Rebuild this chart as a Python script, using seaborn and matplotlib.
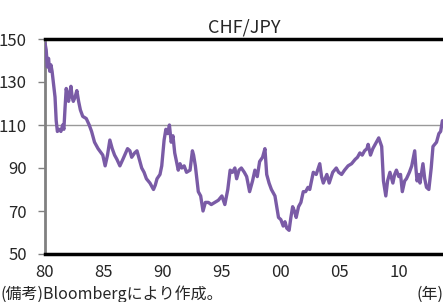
import numpy as np
import matplotlib
matplotlib.use("Agg")
import matplotlib.pyplot as plt
import seaborn as sns

# CHF/JPY (fractional year, rate)
years = [1980.0, 1980.1, 1980.2, 1980.3, 1980.4, 1980.5, 1980.6, 1980.75, 1980.85, 1980.95,
         1981.05, 1981.2, 1981.35, 1981.5, 1981.6, 1981.7, 1981.8, 1981.9, 1982.0, 1982.1,
         1982.2, 1982.3, 1982.4, 1982.55, 1982.7, 1982.85, 1983.0, 1983.2, 1983.5, 1983.75,
         1983.95, 1984.2, 1984.5, 1984.9, 1985.1, 1985.3, 1985.5, 1985.7, 1985.9, 1986.1,
         1986.35, 1986.6, 1987.0, 1987.2, 1987.35, 1987.6, 1987.8, 1988.0, 1988.2, 1988.4,
         1988.6, 1988.9, 1989.2, 1989.35, 1989.5, 1989.75, 1989.9, 1990.1, 1990.25, 1990.4,
         1990.55, 1990.7, 1990.85, 1991.0, 1991.3, 1991.45, 1991.6, 1991.8, 1992.0, 1992.3,
         1992.5, 1992.6, 1992.75, 1993.0, 1993.2, 1993.4, 1993.6, 1993.85, 1994.1, 1994.4,
         1994.7, 1995.0, 1995.25, 1995.5, 1995.7, 1995.9, 1996.1, 1996.25, 1996.45, 1996.65,
         1996.9, 1997.1, 1997.35, 1997.6, 1997.8, 1998.0, 1998.2, 1998.45, 1998.65, 1998.8,
         1999.0, 1999.2, 1999.5, 1999.8, 2000.0, 2000.2, 2000.35, 2000.5, 2000.7, 2000.85,
         2001.0, 2001.15, 2001.3, 2001.5, 2001.7, 2001.9, 2002.1, 2002.3, 2002.45, 2002.6,
         2002.75, 2003.0, 2003.3, 2003.45, 2003.6, 2003.9, 2004.1, 2004.4, 2004.7, 2004.9,
         2005.15, 2005.4, 2005.7, 2006.0, 2006.3, 2006.5, 2006.7, 2006.9, 2007.1, 2007.3,
         2007.4, 2007.6, 2007.8, 2008.0, 2008.3, 2008.55, 2008.7, 2008.9, 2009.05, 2009.25,
         2009.5, 2009.65, 2009.8, 2010.0, 2010.15, 2010.3, 2010.5, 2010.65, 2010.9, 2011.1,
         2011.35, 2011.45, 2011.55, 2011.7, 2011.8, 2012.05, 2012.2, 2012.35, 2012.55, 2012.75,
         2012.9, 2013.05, 2013.2, 2013.4, 2013.55, 2013.7]
rate = [148, 145, 137, 141, 135, 138, 135, 128, 123, 112,
        107, 108, 107, 110, 108, 118, 127, 124, 121, 125,
        128, 123, 121, 123, 126, 121, 117, 114, 113, 110,
        107, 102, 99, 96, 91, 96, 103, 99, 96, 94,
        91, 94, 99, 98, 95, 97, 98, 94, 90, 88,
        85, 83, 80, 82, 85, 87, 91, 103, 108, 106,
        110, 102, 105, 97, 89, 92, 90, 91, 88, 89,
        98, 96, 91, 79, 77, 70, 74, 74, 73, 74,
        75, 77, 73, 80, 89, 88, 90, 85, 89, 90,
        88, 86, 79, 84, 89, 86, 93, 95, 99, 87,
        83, 80, 77, 67, 66, 63, 65, 62, 61, 67,
        72, 70, 67, 72, 74, 79, 79, 81, 80, 84,
        88, 87, 92, 86, 83, 87, 83, 88, 90, 88,
        87, 89, 91, 92, 94, 95, 97, 96, 98, 99,
        101, 96, 99, 101, 104, 100, 84, 77, 84, 88,
        83, 87, 89, 86, 87, 79, 84, 85, 88, 91,
        98, 90, 84, 87, 83, 92, 85, 81, 80, 90,
        100, 101, 102, 106, 107, 112]

tick_years = [1980, 1985, 1990, 1995, 2000, 2005, 2010]
tick_labels = ["80", "85", "90", "95", "00", "05", "10"]
y_ticks = [50, 70, 90, 110, 130, 150]

sns.set_style("white")
plt.rcParams['font.family'] = ['Noto Sans CJK JP', 'DejaVu Sans']

fig = plt.figure(figsize=(4.43, 3.02), dpi=100)
ax = fig.add_axes([45/443, 48/302, 398/443, 215/302])

ax.axhline(110, color='#999999', lw=1, zorder=1)
sns.lineplot(x=years, y=rate, ax=ax, color='#7a5ba6', linewidth=2.4,
             estimator=None, sort=False, zorder=3)

ax.set_xlim(1980, 2013.75)
ax.set_ylim(50, 150)
ax.set_xticks(tick_years)
ax.set_xticklabels(tick_labels)
ax.set_yticks(y_ticks)
ax.tick_params(axis='y', labelsize=12, length=5, width=1, color='#808080',
               direction='out', left=True, pad=8)
ax.tick_params(axis='x', labelsize=12, length=0, pad=7)

ax.spines['left'].set_color('#808080')
ax.spines['left'].set_linewidth(2)
ax.spines['bottom'].set_color('black')
ax.spines['bottom'].set_linewidth(2.5)
ax.spines['top'].set_color('black')
ax.spines['top'].set_linewidth(2.5)
ax.spines['right'].set_visible(False)
ax.set_xlabel('')
ax.set_ylabel('')

ax.set_title('CHF/JPY', fontsize=13, pad=5)

fig.text(0.0, 1 - 294/302, '(備考)Bloombergにより作成。', fontsize=11.5,
         ha='left', va='center')
fig.text(1.0, 1 - 294/302, '(年)', fontsize=11.5, ha='right', va='center')

fig.savefig('out.png', dpi=100)
